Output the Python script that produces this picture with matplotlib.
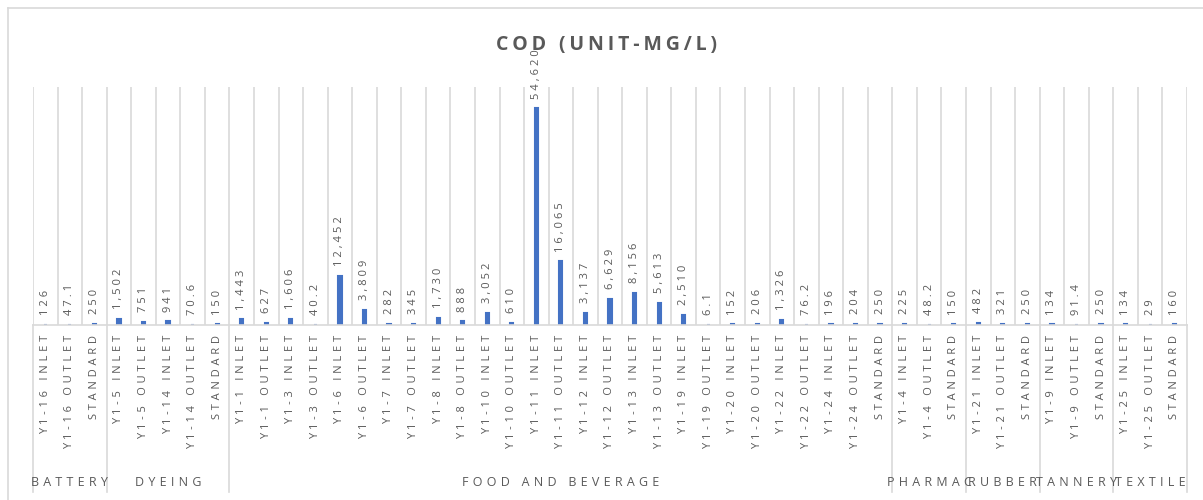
import matplotlib
matplotlib.use("Agg")
import matplotlib.pyplot as plt
from matplotlib.transforms import blended_transform_factory

plt.rcParams['font.family'] = ['Open Sans', 'DejaVu Sans']

groups = ["BATTERY", "DYEING", "FOOD AND BEVERAGE", "PHARMAC", "RUBBER", "TANNERY", "TEXTILE"]
group_categories = [
    ["Y1-16 INLET", "Y1-16 OUTLET", "STANDARD"],
    ["Y1-5 INLET", "Y1-5 OUTLET", "Y1-14 INLET", "Y1-14 OUTLET", "STANDARD"],
    ["Y1-1 INLET", "Y1-1 OUTLET", "Y1-3 INLET", "Y1-3 OUTLET", "Y1-6 INLET", "Y1-6 OUTLET",
     "Y1-7 INLET", "Y1-7 OUTLET", "Y1-8 INLET", "Y1-8 OUTLET", "Y1-10 INLET", "Y1-10 OUTLET",
     "Y1-11 INLET", "Y1-11 OUTLET", "Y1-12 INLET", "Y1-12 OUTLET", "Y1-13 INLET", "Y1-13 OUTLET",
     "Y1-19 INLET", "Y1-19 OUTLET", "Y1-20 INLET", "Y1-20 OUTLET", "Y1-22 INLET", "Y1-22 OUTLET",
     "Y1-24 INLET", "Y1-24 OUTLET", "STANDARD"],
    ["Y1-4 INLET", "Y1-4 OUTLET", "STANDARD"],
    ["Y1-21 INLET", "Y1-21 OUTLET", "STANDARD"],
    ["Y1-9 INLET", "Y1-9 OUTLET", "STANDARD"],
    ["Y1-25 INLET", "Y1-25 OUTLET", "STANDARD"],
]
group_values = [
    [126, 47.1, 250],
    [1502, 751, 941, 70.6, 150],
    [1443, 627, 1606, 40.2, 12452, 3809, 282, 345, 1730, 888, 3052, 610,
     54620, 16065, 3137, 6629, 8156, 5613, 2510, 6.1, 152, 206, 1326, 76.2,
     196, 204, 250],
    [225, 48.2, 150],
    [482, 321, 250],
    [134, 91.4, 250],
    [134, 29, 160],
]
title = "COD (UNIT-MG/L)"

categories = [c for g in group_categories for c in g]
values = [v for g in group_values for v in g]
n = len(categories)

GRAY = "#595959"
GRID = "#D9D9D9"
BAR = "#4472C4"


def spaced(s, sep="\u2009"):
    return sep.join(list(s))


def fmt(v):
    if float(v).is_integer():
        return f"{int(v):,}"
    return f"{v:.1f}"


W, H = 1203, 500
fig = plt.figure(figsize=(W / 100, H / 100), dpi=100)
fig.patch.set_facecolor("white")

# chart border (left & top visible)
fig.add_artist(plt.Line2D([8 / W, 8 / W], [0, 1 - 8 / H], color=GRID, lw=1.2))
fig.add_artist(plt.Line2D([8 / W, 1], [1 - 8 / H, 1 - 8 / H], color=GRID, lw=1.2))

left, right, top, base = 33, 1187, 87, 325
ax = fig.add_axes([left / W, 1 - base / H, (right - left) / W, (base - top) / H])
ymax = 60000
ax.set_xlim(-0.5, n - 0.5)
ax.set_ylim(0, ymax)
for s in ["top", "right", "left"]:
    ax.spines[s].set_visible(False)
ax.spines["bottom"].set_color(GRID)
ax.spines["bottom"].set_linewidth(1.2)
ax.set_yticks([])

# category gridlines
for i in range(n + 1):
    ax.axvline(i - 0.5, color=GRID, lw=1.2, zorder=0)

ax.bar(range(n), values, width=0.13, color=BAR, edgecolor=BAR, linewidth=1.5, zorder=2)

for i, v in enumerate(values):
    ax.annotate(spaced(fmt(v), "\u2009\u200a"), (i, v), xytext=(0, 7), textcoords="offset points",
                rotation=90, ha="center", va="bottom", fontsize=8, color=GRAY, zorder=3)

ax.set_xticks(range(n))
ax.set_xticklabels([spaced(c, "\u2009\u2009") for c in categories], rotation=90,
                   fontsize=8, color=GRAY)
ax.tick_params(axis="x", length=0, pad=7)

# group separators and labels
trans = blended_transform_factory(ax.transData, ax.transAxes)
ah = base - top
y_end = -(492 - base) / ah
y_lab = -(482 - base) / ah
start = 0
bounds = [0]
for g in group_categories:
    start += len(g)
    bounds.append(start)
for b in bounds:
    ax.plot([b - 0.5, b - 0.5], [0, y_end], transform=trans, color=GRID, lw=1.2, clip_on=False)
for gi, gname in enumerate(groups):
    cx = (bounds[gi] + bounds[gi + 1] - 1) / 2
    ax.text(cx, y_lab, spaced(gname, "\u2009\u2009"), transform=trans, ha="center", va="center",
            fontsize=9, color=GRAY)

fig.text(607 / W, 1 - 45 / H, spaced(title), ha="center", va="center", fontsize=14,
         fontweight="bold", color=GRAY, zorder=10)

fig.savefig("out.png", dpi=100, facecolor="white")
